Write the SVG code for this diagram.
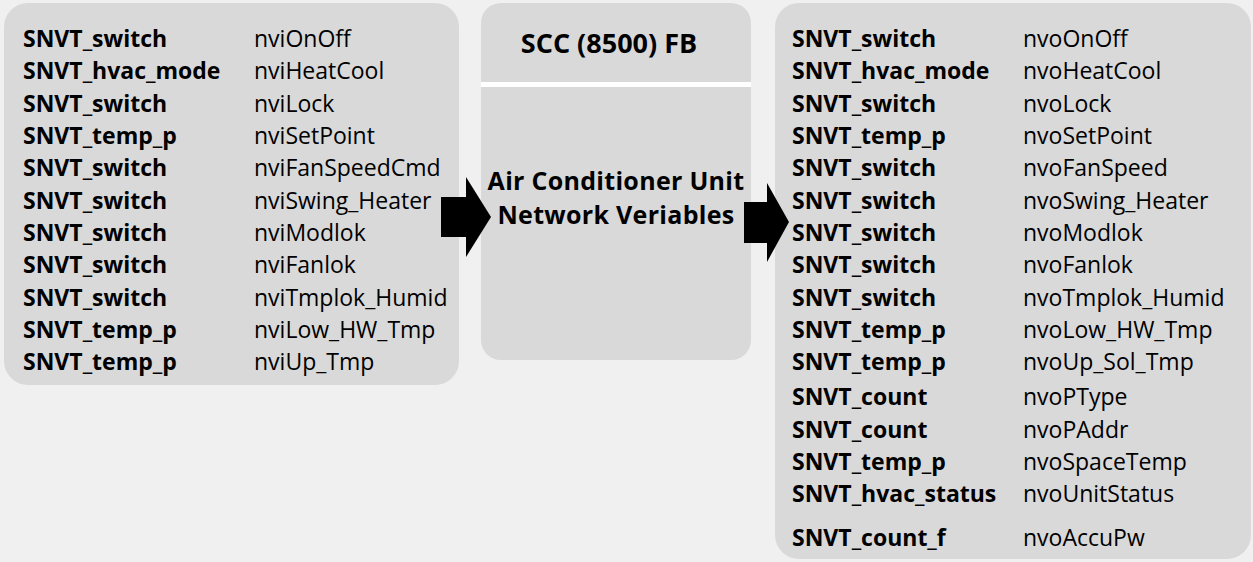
<svg xmlns="http://www.w3.org/2000/svg" width="1253" height="562" viewBox="0 0 1253 562">
<style>
.box{fill:#d9d9d9}
.t{font-family:"Open Sans","Noto Sans","Liberation Sans",sans-serif;font-size:23px;fill:#000}
.b{font-weight:bold}
.h{font-size:25px;letter-spacing:0.3px}
.arrow{fill:#000}
</style>
<rect width="1253" height="562" fill="#f0f0f0"/>
<g id="inputs">
<rect class="box" x="4" y="3" width="455" height="382" rx="24"/>
<g class="t">
<text x="23" y="47" class="b">SNVT_switch</text><text x="254" y="47">nviOnOff</text>
<text x="23" y="79" class="b">SNVT_hvac_mode</text><text x="254" y="79">nviHeatCool</text>
<text x="23" y="111.5" class="b">SNVT_switch</text><text x="254" y="111.5">nviLock</text>
<text x="23" y="144" class="b">SNVT_temp_p</text><text x="254" y="144">nviSetPoint</text>
<text x="23" y="176" class="b">SNVT_switch</text><text x="254" y="176">nviFanSpeedCmd</text>
<text x="23" y="208.5" class="b">SNVT_switch</text><text x="254" y="208.5">nviSwing_Heater</text>
<text x="23" y="241" class="b">SNVT_switch</text><text x="254" y="241">nviModlok</text>
<text x="23" y="273" class="b">SNVT_switch</text><text x="254" y="273">nviFanlok</text>
<text x="23" y="305.5" class="b">SNVT_switch</text><text x="254" y="305.5">nviTmplok_Humid</text>
<text x="23" y="338" class="b">SNVT_temp_p</text><text x="254" y="338">nviLow_HW_Tmp</text>
<text x="23" y="370" class="b">SNVT_temp_p</text><text x="254" y="370">nviUp_Tmp</text>
</g>
</g>
<g id="fb">
<rect class="box" x="481" y="3" width="270" height="357" rx="20"/>
<rect x="481" y="82" width="270" height="5" fill="#ffffff"/>
<text class="t b" x="609" y="53" text-anchor="middle" style="font-size:27px">SCC (8500) FB</text>
<text class="t b h" x="616" y="190" text-anchor="middle">Air Conditioner Unit</text>
<text class="t b h" x="616" y="224" text-anchor="middle">Network Veriables</text>
</g>
<g id="outputs">
<rect class="box" x="775" y="3" width="476" height="556" rx="24"/>
<g class="t">
<text x="792" y="47" class="b">SNVT_switch</text><text x="1023" y="47">nvoOnOff</text>
<text x="792" y="79" class="b">SNVT_hvac_mode</text><text x="1023" y="79">nvoHeatCool</text>
<text x="792" y="111.5" class="b">SNVT_switch</text><text x="1023" y="111.5">nvoLock</text>
<text x="792" y="144" class="b">SNVT_temp_p</text><text x="1023" y="144">nvoSetPoint</text>
<text x="792" y="176" class="b">SNVT_switch</text><text x="1023" y="176">nvoFanSpeed</text>
<text x="792" y="208.5" class="b">SNVT_switch</text><text x="1023" y="208.5">nvoSwing_Heater</text>
<text x="792" y="241" class="b">SNVT_switch</text><text x="1023" y="241">nvoModlok</text>
<text x="792" y="273" class="b">SNVT_switch</text><text x="1023" y="273">nvoFanlok</text>
<text x="792" y="305.5" class="b">SNVT_switch</text><text x="1023" y="305.5">nvoTmplok_Humid</text>
<text x="792" y="338" class="b">SNVT_temp_p</text><text x="1023" y="338">nvoLow_HW_Tmp</text>
<text x="792" y="370" class="b">SNVT_temp_p</text><text x="1023" y="370">nvoUp_Sol_Tmp</text>
<text x="792" y="405" class="b">SNVT_count</text><text x="1023" y="405">nvoPType</text>
<text x="792" y="437.5" class="b">SNVT_count</text><text x="1023" y="437.5">nvoPAddr</text>
<text x="792" y="470" class="b">SNVT_temp_p</text><text x="1023" y="470">nvoSpaceTemp</text>
<text x="792" y="502" class="b">SNVT_hvac_status</text><text x="1023" y="502">nvoUnitStatus</text>
<text x="792" y="546" class="b">SNVT_count_f</text><text x="1023" y="546">nvoAccuPw</text>
</g>
</g>
<g id="connectors">
<polygon class="arrow" points="441,197 466,197 466,177 491,217 466,257 466,237 441,237"/>
<polygon class="arrow" points="744,202 767,202 767,183 789,222 767,262 767,243 744,243"/>
</g>
</svg>
